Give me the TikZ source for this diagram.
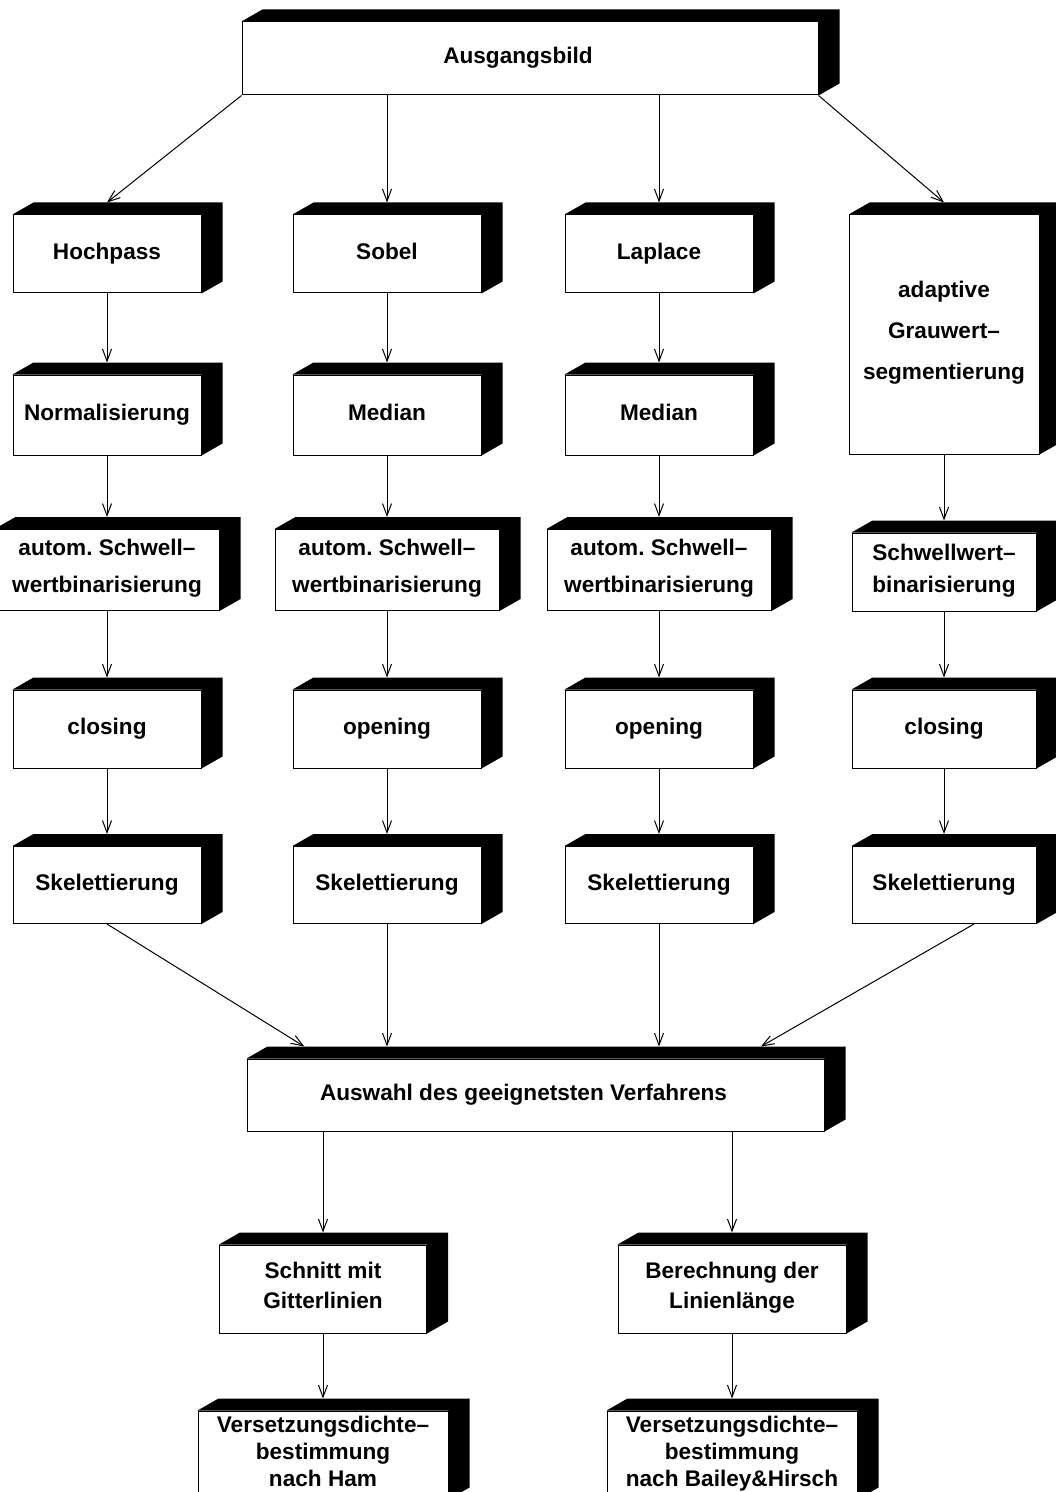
\documentclass[tikz,border=0pt]{standalone}
\usepackage{fontspec}
\setmainfont{Liberation Sans}
\usetikzlibrary{arrows.meta,calc}
\frenchspacing

\begin{document}
\begin{tikzpicture}[x=0.5pt,y=0.5pt,
        stufe/.style={draw, line width=0.5pt, fill=white, align=center, inner sep=2pt,
                font=\fontsize{11.3}{13.5}\selectfont\bfseries, minimum width=94pt, minimum height=39pt,
                execute at begin node=\strut, execute at end node=\strut},
        pfeil/.style={-{Straight Barb[length=6pt,width=4.5pt]}, line width=0.5pt}]
        \useasboundingbox (0,0) rectangle (1055,-1492);

        \node[stufe, minimum width=288pt, minimum height=36.5pt] (ausgang) at (530,-58.5) {\hspace*{-12pt}Ausgangsbild};

        \node[stufe] (hochpass) at (107,-254) {Hochpass};
        \node[stufe] (sobel) at (387,-254) {Sobel};
        \node[stufe] (laplace) at (659,-254) {Laplace};
        \node[stufe, minimum width=95pt, minimum height=119.5pt] (adaptiv) at (944,-334.5) {adaptive\\[7pt]Grauwert–\\[7pt]segmentierung};

        \node[stufe, minimum height=40pt] (normal) at (107,-415) {Normalisierung};
        \node[stufe, minimum height=40pt] (medianB) at (387,-415) {Median};
        \node[stufe, minimum height=40pt] (medianC) at (659,-415) {Median};

        \node[stufe, minimum width=112pt, minimum height=40.5pt] (binA) at (107,-570) {autom. Schwell–\\[5pt]wertbinarisierung};
        \node[stufe, minimum width=112pt, minimum height=40.5pt] (binB) at (387,-570) {autom. Schwell–\\[5pt]wertbinarisierung};
        \node[stufe, minimum width=112pt, minimum height=40.5pt] (binC) at (659,-570) {autom. Schwell–\\[5pt]wertbinarisierung};
        \node[stufe, minimum width=92pt] (binD) at (944,-572) {Schwellwert–\\[2.5pt]binarisierung};

        \node[stufe] (closeA) at (107,-729) {closing};
        \node[stufe] (openB) at (387,-729) {opening};
        \node[stufe] (openC) at (659,-729) {opening};
        \node[stufe, minimum width=92pt] (closeD) at (944,-729) {closing};

        \node[stufe, minimum height=38.5pt] (skelA) at (107,-885) {Skelettierung};
        \node[stufe, minimum height=38.5pt] (skelB) at (387,-885) {Skelettierung};
        \node[stufe, minimum height=38.5pt] (skelC) at (659,-885) {Skelettierung};
        \node[stufe, minimum width=92pt, minimum height=38.5pt] (skelD) at (944,-885) {Skelettierung};

        \node[stufe, minimum width=288.5pt, minimum height=36pt] (auswahl) at (535.5,-1095) {\hspace*{-12pt}Auswahl des geeignetsten Verfahrens};

        \node[stufe, minimum width=103.5pt, minimum height=44pt] (schnitt) at (323,-1289) {Schnitt mit\\[1.5pt]Gitterlinien};
        \node[stufe, minimum width=114pt, minimum height=44pt] (berechnung) at (732,-1289) {Berechnung der\\[1.5pt]Linienlänge};

        \node[stufe, minimum width=125pt, minimum height=44pt] (hamV) at (323,-1455) {Versetzungsdichte–\\bestimmung\\nach Ham};
        \node[stufe, minimum width=125pt, minimum height=44pt] (baileyV) at (732,-1455) {Versetzungsdichte–\\bestimmung\\nach Bailey\&Hirsch};

        \foreach \n in {ausgang,hochpass,sobel,laplace,adaptiv,normal,medianB,medianC,binA,binB,binC,binD,
                closeA,openB,openC,closeD,skelA,skelB,skelC,skelD,auswahl,schnitt,berechnung,hamV,baileyV}
                \fill (\n.north west) -- ++(21,12) -- ($(\n.north east)+(21,12)$) -- ($(\n.south east)+(21,12)$)
                        -- (\n.south east) -- (\n.north east) -- cycle;

        \draw[pfeil] (ausgang.south west) -- ($(hochpass.north)+(0,12)$);
        \draw[pfeil] (ausgang.south -| sobel) -- ($(sobel.north)+(0,12)$);
        \draw[pfeil] (ausgang.south -| laplace) -- ($(laplace.north)+(0,12)$);
        \draw[pfeil] (ausgang.south east) -- ($(adaptiv.north)+(0,12)$);

        \foreach \a/\b in {hochpass/normal,normal/binA,binA/closeA,closeA/skelA,
                sobel/medianB,medianB/binB,binB/openB,openB/skelB,
                laplace/medianC,medianC/binC,binC/openC,openC/skelC,
                adaptiv/binD,binD/closeD,closeD/skelD,schnitt/hamV,berechnung/baileyV}
                \draw[pfeil] (\a.south) -- ($(\b.north)+(0,12)$);

        \draw[pfeil] (skelA.south) -- ($(auswahl.north west)!0.1!(auswahl.north east)+(0,12)$);
        \draw[pfeil] (skelB.south) -- ($(skelB.south |- auswahl.north)+(0,12)$);
        \draw[pfeil] (skelC.south) -- ($(skelC.south |- auswahl.north)+(0,12)$);
        \draw[pfeil] ($(skelD.south)+(30,0)$) -- ($(auswahl.north west)!0.89!(auswahl.north east)+(0,12)$);

        \draw[pfeil] (auswahl.south -| schnitt) -- ($(schnitt.north)+(0,12)$);
        \draw[pfeil] (auswahl.south -| berechnung) -- ($(berechnung.north)+(0,12)$);
    \end{tikzpicture}
\end{document}
